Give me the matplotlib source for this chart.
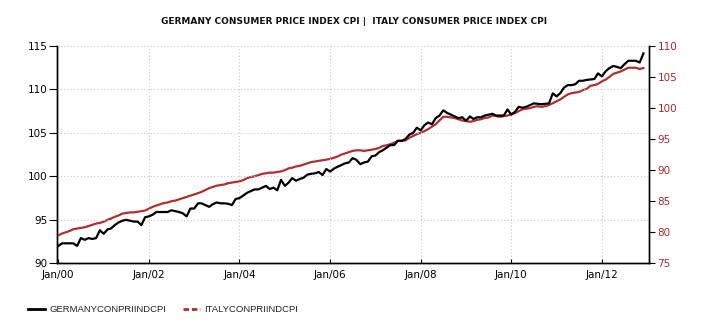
import matplotlib
matplotlib.use("Agg")
import matplotlib.pyplot as plt
from matplotlib.lines import Line2D
import pandas as pd

title = "GERMANY CONSUMER PRICE INDEX CPI |  ITALY CONSUMER PRICE INDEX CPI"
germany_label = "GERMANYCONPRIINDCPI"
italy_label = "ITALYCONPRIINDCPI"

germany = [
    # 2000
    92.0, 92.3, 92.3, 92.3, 92.3, 92.0, 92.9, 92.7, 92.9, 92.8, 92.9, 93.8,
    # 2001
    93.4, 93.9, 94.0, 94.4, 94.7, 94.9, 95.0, 94.9, 94.8, 94.8, 94.4, 95.3,
    # 2002
    95.4, 95.6, 95.9, 95.9, 95.9, 95.9, 96.1, 96.0, 95.9, 95.75, 95.4, 96.3,
    # 2003
    96.3, 96.9, 96.9, 96.7, 96.5, 96.8, 97.0, 96.9, 96.9, 96.85, 96.7, 97.4,
    # 2004
    97.5, 97.8, 98.1, 98.3, 98.5, 98.5, 98.7, 98.9, 98.55, 98.7, 98.4, 99.6,
    # 2005
    98.9, 99.3, 99.8, 99.5, 99.7, 99.85, 100.2, 100.3, 100.35, 100.5, 100.16, 100.85,
    # 2006
    100.55, 100.9, 101.1, 101.3, 101.5, 101.6, 102.1, 101.9, 101.4, 101.6, 101.7, 102.3,
    # 2007
    102.4, 102.8, 103.0, 103.3, 103.6, 103.6, 104.1, 104.1, 104.3, 104.8, 105.0, 105.6,
    # 2008
    105.3, 105.9, 106.2, 106.0, 106.7, 107.0, 107.6, 107.3, 107.1, 106.9, 106.7, 106.8,
    # 2009
    106.4, 106.9, 106.6, 106.8, 106.8, 107.0, 107.1, 107.2, 107.0, 107.0, 107.0, 107.7,
    # 2010
    107.1, 107.45, 108.0, 107.9, 108.0, 108.2, 108.4, 108.35, 108.3, 108.35, 108.4, 109.55,
    # 2011
    109.2, 109.6, 110.2, 110.5, 110.5, 110.6, 111.0, 111.0, 111.1, 111.15, 111.2, 111.85,
    # 2012
    111.5, 112.1, 112.45, 112.7, 112.6, 112.45, 112.9, 113.3, 113.3, 113.3, 113.1, 114.15,
]

italy = [
    # 2000
    79.5, 79.8, 80.0, 80.2, 80.5, 80.6, 80.7, 80.8, 81.0, 81.2, 81.4, 81.5,
    # 2001
    81.7, 82.0, 82.2, 82.5, 82.7, 83.0, 83.1, 83.2, 83.2, 83.3, 83.4, 83.5,
    # 2002
    83.8, 84.1, 84.3, 84.5, 84.7, 84.8, 85.0, 85.1, 85.3, 85.5, 85.7, 85.9,
    # 2003
    86.1, 86.3, 86.5, 86.8, 87.1, 87.3, 87.5, 87.6, 87.7, 87.9, 88.0, 88.1,
    # 2004
    88.2, 88.4, 88.7, 88.9, 89.0, 89.2, 89.4, 89.5, 89.6, 89.6, 89.7, 89.8,
    # 2005
    90.0, 90.3, 90.4, 90.6, 90.7, 90.9, 91.1, 91.3, 91.4, 91.5, 91.6, 91.7,
    # 2006
    91.8, 92.0, 92.2, 92.5, 92.7, 92.9, 93.1, 93.2, 93.2, 93.1, 93.2, 93.3,
    # 2007
    93.4, 93.6, 93.9, 94.0, 94.2, 94.4, 94.7, 94.7, 94.8, 95.2, 95.5, 95.8,
    # 2008
    96.0, 96.3, 96.6, 97.0, 97.4, 98.0, 98.6, 98.6, 98.5, 98.4, 98.2, 98.0,
    # 2009
    97.9, 97.8, 97.9, 98.1, 98.2, 98.4, 98.5, 98.8, 98.7, 98.6, 98.7, 98.8,
    # 2010
    99.0, 99.2, 99.5, 99.8, 99.9, 100.0, 100.2, 100.3, 100.2, 100.3, 100.5, 100.8,
    # 2011
    101.1, 101.4, 101.8, 102.2, 102.4, 102.5, 102.6, 102.9, 103.1, 103.6, 103.7, 103.9,
    # 2012
    104.3, 104.6, 105.0, 105.5, 105.7, 105.9, 106.2, 106.5, 106.5, 106.5, 106.3, 106.45,
]

start_month = "2000-01-01"
left_ticks = [90, 95, 100, 105, 110, 115]
right_ticks = [75, 80, 85, 90, 95, 100, 105, 110]
x_tick_years = [2000, 2002, 2004, 2006, 2008, 2010, 2012]

dates = pd.date_range(start_month, periods=len(germany), freq="MS")

GER_COLOR = "#000000"
ITA_COLOR = "#B03030"
RIGHT_LABEL_COLOR = "#A52A2A"

fig = plt.figure(figsize=(7.05, 3.25), dpi=100)
ax = fig.add_axes([57.3 / 705, 1 - 263.3 / 325, (649 - 57.3) / 705, (263.3 - 46) / 325])
ax2 = ax.twinx()

ax.plot(dates, germany, color=GER_COLOR, lw=1.6, zorder=3)
ax2.plot(dates, italy, color=ITA_COLOR, lw=1.6, zorder=2)
ax.set_zorder(ax2.get_zorder() + 1)
ax.patch.set_visible(False)

ax.set_ylim(90, 115)
ax2.set_ylim(75, 110)
ax.set_yticks(left_ticks)
ax2.set_yticks(right_ticks)
ax.set_xlim(pd.Timestamp("2000-01-01") - pd.Timedelta(days=8), pd.Timestamp("2013-01-15"))

xt = [pd.Timestamp(f"{y}-01-01") for y in x_tick_years]
ax.set_xticks(xt)
ax.set_xticklabels([f"Jan/{y % 100:02d}" for y in x_tick_years])

for lab in ax.get_xticklabels() + ax.get_yticklabels():
    lab.set_fontfamily("DejaVu Sans")
    lab.set_fontsize(7.5)
for lab in ax2.get_yticklabels():
    lab.set_fontfamily("DejaVu Sans")
    lab.set_fontsize(7.5)
    lab.set_color(RIGHT_LABEL_COLOR)

ax.grid(True, which="major", axis="both", color="#c8c8c8", linestyle=(0, (1, 2)), lw=0.8)
ax.tick_params(axis="y", direction="out", length=6, width=0.8, pad=1, colors="black")
ax.tick_params(axis="x", direction="in", length=3, width=0.8, pad=5)
ax2.tick_params(axis="y", direction="out", length=4.5, width=0.8, pad=1.5, labelcolor=RIGHT_LABEL_COLOR)

for a in (ax, ax2):
    a.spines["top"].set_visible(False)
    for s in ("left", "right", "bottom"):
        a.spines[s].set_linewidth(1.0)
        a.spines[s].set_color("black")

fig.text(354 / 705, 1 - 22 / 325, title, ha="center", va="center",
         fontsize=6.45, fontweight="bold", family="DejaVu Sans", color="#111111")

handles = [
    Line2D([], [], color=GER_COLOR, lw=2.0),
    Line2D([], [], color=ITA_COLOR, lw=2.0, linestyle=(0, (2, 1))),
]
fig.legend(handles, [germany_label, italy_label], loc="center left",
           bbox_to_anchor=(28 / 705, 1 - 310 / 325), ncol=2, frameon=False,
           prop=dict(family="Liberation Sans", size=6.8), labelcolor="#222222",
           borderpad=0, borderaxespad=0, handlelength=1.8, handletextpad=0.5,
           columnspacing=1.7)

fig.savefig("out.png", dpi=100)
